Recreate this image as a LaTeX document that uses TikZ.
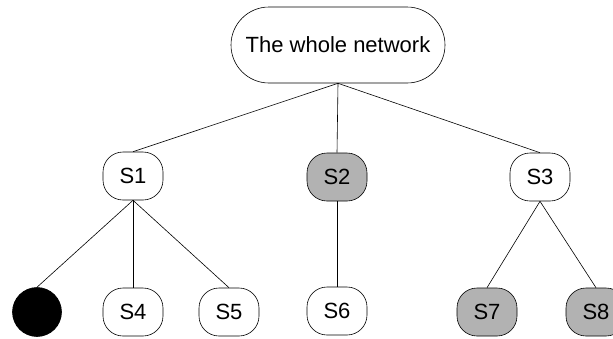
\documentclass[tikz,border=0pt]{standalone}
\usepackage{fontspec}
\setmainfont{Liberation Sans}
\begin{document}
\begin{tikzpicture}[x=1pt, y=-1pt, line width=0.6pt,
        sbox/.style={rectangle, draw, rounded corners=20pt, minimum width=60pt, minimum height=48pt, inner sep=0pt, font=\fontsize{22}{26}\selectfont},
        grey/.style={fill=black!30}]
        \clip (0, 0) rectangle (613, 338);

        \node[sbox, rounded corners=38pt, minimum width=214pt, minimum height=76pt] (net) at (338, 45) {The whole network};

        \node[sbox] (s1) at (133, 176) {S1};
        \node[sbox, grey] (s2) at (337, 177) {S2};
        \node[sbox] (s3) at (540, 177) {S3};

        \node[circle, draw, fill=black, minimum size=49pt, inner sep=0pt] (dot) at (37, 312) {};
        \node[sbox] (s4) at (133, 312) {S4};
        \node[sbox] (s5) at (229, 312) {S5};
        \node[sbox] (s6) at (337, 311) {S6};
        \node[sbox, grey] (s7) at (487, 312) {S7};
        \node[sbox, grey] (s8) at (596, 312) {S8};

        \draw (net.south) -- (s1.north);
        \draw (net.south) -- (s2.north);
        \draw (net.south) -- (s3.north);
        \draw (s1.south) -- (dot.north);
        \draw (s1.south) -- (s4.north);
        \draw (s1.south) -- (s5.north);
        \draw (s2.south) -- (s6.north);
        \draw (s3.south) -- (s7.north);
        \draw (s3.south) -- (s8.north);

    \end{tikzpicture}
\end{document}
